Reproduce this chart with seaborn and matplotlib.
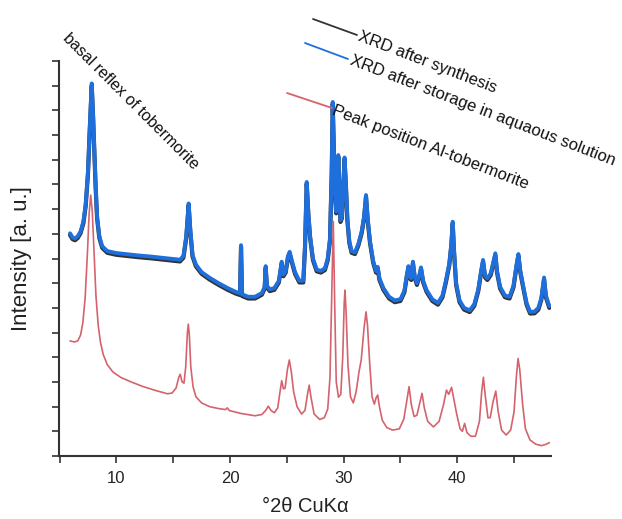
import matplotlib
matplotlib.use("Agg")
import matplotlib.pyplot as plt
import seaborn as sns
import pandas as pd
from matplotlib.lines import Line2D

# ---------------- data ----------------
storage_x = [5.92, 6.15, 6.36, 6.6, 6.85, 7.1, 7.3, 7.5, 7.65, 7.83, 7.95, 8.05, 8.17, 8.3, 8.5,
             8.75, 9.2, 10.0, 11.0, 12.0, 13.0, 14.0, 15.0, 15.6, 15.9, 16.15, 16.36, 16.5, 16.7,
             17.0, 17.5, 18.2, 19.0, 19.8, 20.5, 20.88, 20.97, 21.06, 21.6, 22.2, 22.8, 23.05,
             23.14, 23.25, 23.5, 23.9, 24.3, 24.55, 24.7, 24.9, 25.1, 25.25, 25.45, 25.72, 26.1,
             26.45, 26.6, 26.75, 26.9, 27.05, 27.3, 27.63, 28.0, 28.35, 28.6, 28.8, 28.95, 29.04,
             29.14, 29.24, 29.35, 29.45, 29.53, 29.62, 29.72, 29.85, 29.98, 30.08, 30.2, 30.33,
             30.5, 30.7, 31.0, 31.3, 31.59, 31.8, 31.97, 32.12, 32.32, 32.6, 32.85, 33.0, 33.15,
             33.5, 34.0, 34.5, 35.0, 35.35, 35.55, 35.7, 35.85, 35.95, 36.1, 36.25, 36.45, 36.65,
             36.81, 37.0, 37.3, 37.8, 38.3, 38.7, 39.0, 39.3, 39.48, 39.6, 39.72, 39.9, 40.2, 40.6,
             41.1, 41.5, 41.85, 42.1, 42.27, 42.45, 42.65, 42.95, 43.2, 43.35, 43.5, 43.77, 44.2,
             44.6, 44.95, 45.2, 45.38, 45.55, 45.82, 46.1, 46.41, 46.8, 47.14, 47.4, 47.64, 47.8,
             48.1]
storage_y = [9.02, 8.85, 8.81, 8.9, 9.1, 9.5, 10.2, 11.5, 13.2, 15.09, 13.8, 12.5, 11.0, 9.7, 8.9,
             8.5, 8.3, 8.22, 8.17, 8.12, 8.08, 8.03, 7.98, 7.95, 8.1, 8.9, 10.23, 9.2, 8.15,
             7.75, 7.45, 7.22, 7.0, 6.8, 6.65, 6.59, 8.54, 6.55, 6.45, 6.45, 6.6, 6.85,
             7.69, 6.9, 6.75, 6.8, 7.1, 7.87, 7.35, 7.5, 8.1, 8.27, 7.9, 7.45, 7.1,
             7.1, 8.5, 11.1, 9.8, 8.9, 8.0, 7.55, 7.5, 7.6, 8.0, 8.8, 11.5, 14.34,
             12.5, 10.6, 9.9, 11.0, 12.19, 10.9, 9.55, 9.7, 11.0, 12.09, 11.0, 9.6,
             8.7, 8.3, 8.25, 8.6, 9.1, 9.7, 10.57, 9.6, 8.7, 7.9, 7.5, 7.66, 7.2,
             6.8, 6.45, 6.3, 6.35, 6.7, 7.3, 7.69, 7.25, 7.2, 7.87, 7.3, 7.0, 7.3,
             7.64, 7.1, 6.72, 6.35, 6.2, 6.5, 7.1, 7.8, 8.6, 9.49, 8.3, 7.0, 6.3, 6.0,
             5.9, 6.15, 6.75, 7.5, 7.94, 7.3, 7.2, 7.4, 7.9, 8.21, 7.5, 6.85, 6.5,
             6.45, 6.9, 7.7, 8.18, 7.5, 6.85, 6.2, 5.84, 5.85, 6.0, 6.4, 7.23, 6.5,
             6.07]

synthesis_x = storage_x
synthesis_y = [8.95, 8.78, 8.74, 8.83, 9.03, 9.43, 10.13, 11.43, 13.13, 15.0, 13.73, 12.43, 10.93, 9.63, 8.83,
               8.43, 8.23, 8.15, 8.1, 8.05, 8.01, 7.96, 7.91, 7.88, 8.03, 8.83, 10.16, 9.13, 8.08,
               7.68, 7.38, 7.15, 6.93, 6.73, 6.58, 6.52, 8.47, 6.48, 6.38, 6.38, 6.53, 6.78,
               7.62, 6.83, 6.68, 6.73, 7.03, 7.8, 7.28, 7.43, 8.03, 8.2, 7.83, 7.38, 7.03,
               7.03, 8.43, 11.03, 9.73, 8.83, 7.93, 7.48, 7.43, 7.53, 7.93, 8.73, 11.43, 14.27,
               12.43, 10.53, 9.83, 10.93, 12.12, 10.83, 9.48, 9.63, 10.93, 12.02, 10.93, 9.53,
               8.63, 8.23, 8.18, 8.53, 9.03, 9.63, 10.5, 9.53, 8.63, 7.83, 7.43, 7.59, 7.13,
               6.73, 6.38, 6.23, 6.28, 6.63, 7.23, 7.62, 7.18, 7.13, 7.8, 7.23, 6.93, 7.23,
               7.57, 7.03, 6.65, 6.28, 6.13, 6.43, 7.03, 7.73, 8.53, 9.42, 8.23, 6.93, 6.23, 5.93,
               5.83, 6.08, 6.68, 7.43, 7.87, 7.23, 7.13, 7.33, 7.83, 8.14, 7.43, 6.78, 6.43,
               6.38, 6.83, 7.63, 8.11, 7.43, 6.78, 6.13, 5.77, 5.78, 5.93, 6.33, 7.16, 6.43,
               6.0]

ref_x = [5.92, 6.3, 6.6, 6.85, 7.05, 7.25, 7.45, 7.6, 7.74, 7.88, 8.02, 8.2, 8.4, 8.6, 8.85,
         9.2, 9.7, 10.4, 11.3, 12.3, 13.4, 14.5, 14.9, 15.25, 15.5, 15.62, 15.78, 15.95, 16.1,
         16.25, 16.33, 16.42, 16.55, 16.75, 17.0, 17.5, 18.2, 19.0, 19.6, 19.76, 19.95, 21.0,
         22.2, 22.8, 23.15, 23.37, 23.6, 23.9, 24.2, 24.4, 24.55, 24.7, 24.85, 25.05, 25.22,
         25.4, 25.6, 25.9, 26.3, 26.6, 26.82, 26.97, 27.12, 27.4, 27.9, 28.3, 28.6, 28.8,
         28.95, 29.09, 29.22, 29.35, 29.55, 29.75, 29.92, 30.05, 30.12, 30.22, 30.38, 30.6,
         30.85, 31.1, 31.35, 31.55, 31.8, 31.97, 32.1, 32.3, 32.5, 32.7, 32.85, 33.0, 33.15,
         33.4, 33.8, 34.3, 34.9, 35.3, 35.55, 35.76, 35.95, 36.2, 36.45, 36.7, 36.9, 37.1,
         37.4, 37.9, 38.4, 38.8, 39.05, 39.25, 39.5, 39.7, 39.95, 40.25, 40.45, 40.65, 40.85,
         41.2, 41.6, 41.95, 42.15, 42.3, 42.45, 42.7, 42.9, 43.15, 43.39, 43.6, 43.9, 44.3,
         44.7, 45.0, 45.2, 45.35, 45.5, 45.75, 46.0, 46.4, 46.9, 47.4, 47.8, 48.1]
ref_y = [4.66, 4.62, 4.66, 4.9, 5.4, 6.4, 8.2, 9.8, 10.57, 9.9, 8.4, 6.5, 5.3, 4.6, 4.1,
         3.7, 3.4, 3.18, 3.0, 2.82, 2.66, 2.52, 2.55, 2.75, 3.2, 3.31, 3.0, 2.95, 3.6,
         5.0, 5.34, 4.9, 3.6, 2.8, 2.4, 2.15, 2.0, 1.92, 1.88, 1.95, 1.84, 1.72,
         1.63, 1.68, 1.85, 2.02, 1.85, 1.75, 1.95, 2.6, 3.05, 2.72, 2.75, 3.5, 3.89,
         3.4, 2.6, 2.0, 1.7, 1.85, 2.5, 2.87, 2.4, 1.7, 1.48, 1.55, 1.9, 3.2,
         6.5, 9.5, 6.0, 3.0, 2.38, 2.5, 4.0, 6.2, 6.72, 5.8, 3.7, 2.4,
         2.15, 2.6, 3.4, 3.9, 5.2, 5.84, 5.3, 3.7, 2.4, 2.1, 2.35, 2.47, 2.0,
         1.45, 1.15, 1.05, 1.1, 1.5, 2.2, 2.81, 2.1, 1.6, 1.65, 2.15, 2.54, 1.95,
         1.4, 1.18, 1.4, 2.1, 2.67, 2.5, 2.78, 2.3, 1.7, 1.1, 1.0, 1.32, 0.95,
         0.8, 0.8, 1.4, 2.6, 3.19, 2.5, 1.55, 1.55, 2.2, 2.63, 1.8, 1.05, 0.85,
         1.05, 1.8, 3.2, 3.95, 3.5, 2.1, 1.1, 0.65, 0.48, 0.42, 0.47, 0.54]

series_labels = ["XRD after synthesis", "XRD after storage in aquaous solution",
                 "Peak position Al-tobermorite"]
x_ticks = [10, 20, 30, 40]
x_minor = [5, 15, 25, 35, 45]
y_ticks = list(range(0, 17))

# ---------------- plot ----------------
sns.set_theme(style="ticks")
plt.rcParams['font.family'] = ['Liberation Sans', 'DejaVu Sans']

W, H = 622, 519
fig = plt.figure(figsize=(W / 100, H / 100), dpi=100)
ax = fig.add_axes([59 / W, 1 - 456 / H, (551 - 59) / W, (456 - 61) / H])

c_black = "#333333"
c_blue = "#1e6fdc"
c_red = "#d4636e"

df_syn = pd.DataFrame({"x": synthesis_x, "y": synthesis_y})
df_sto = pd.DataFrame({"x": storage_x, "y": storage_y})
df_ref = pd.DataFrame({"x": ref_x, "y": ref_y})

sns.lineplot(data=df_syn, x="x", y="y", ax=ax, color=c_black, lw=3.0,
             sort=False, estimator=None)
sns.lineplot(data=df_sto, x="x", y="y", ax=ax, color=c_blue, lw=2.8,
             sort=False, estimator=None)
sns.lineplot(data=df_ref, x="x", y="y", ax=ax, color=c_red, lw=1.2,
             sort=False, estimator=None)

ax.set_xlim(4.95, 48.25)
ax.set_ylim(0, 16)
ax.set_xticks(x_ticks)
ax.set_xticks(x_minor, minor=True)
ax.set_yticks(y_ticks)
ax.set_yticklabels([])
ax.tick_params(axis="both", which="both", direction="out", length=5, width=1.2,
               color="#333333")
ax.tick_params(axis="x", labelsize=12, pad=6, labelcolor="#222222")
for side in ["top", "right"]:
    ax.spines[side].set_visible(False)
for side in ["left", "bottom"]:
    ax.spines[side].set_linewidth(1.5)
    ax.spines[side].set_color("#333333")

ax.set_xlabel("°2θ CuKα", fontsize=14.5, color="#222222", labelpad=8)
ax.set_ylabel("Intensity [a. u.]", fontsize=16, color="#222222")
ax.yaxis.set_label_coords(-0.055, 0.5)


def fpt(px, py):
    return px / W, 1 - py / H


# rotated legend entries
legend_items = [
    ((313, 19), (357, 35), c_black, (361, 29)),
    ((305, 43), (348, 59), c_blue, (353, 53)),
    ((287, 93), (332, 108), c_red, (335, 103)),
]
for (p0, p1, col, tp), lab in zip(legend_items, series_labels):
    a = fpt(*p0)
    b = fpt(*p1)
    fig.add_artist(Line2D([a[0], b[0]], [a[1], b[1]], color=col, lw=1.3,
                          transform=fig.transFigure))
    t = fpt(*tp)
    fig.text(t[0], t[1], lab, rotation=-21, rotation_mode="anchor",
             ha="left", va="top", fontsize=12, color="#111111")

t = fpt(70, 31)
fig.text(t[0], t[1], "basal reflex of tobermorite", rotation=-45,
         rotation_mode="anchor", ha="left", va="top", fontsize=11.5,
         color="#111111")

fig.savefig("out.png", dpi=100)
